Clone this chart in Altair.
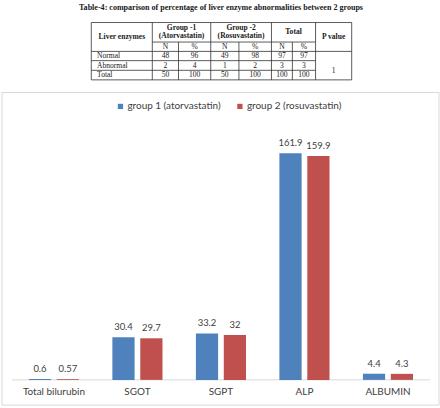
import altair as alt
import pandas as pd

# ---------------- data ----------------
table_title = "Table-4: comparison of percentage of liver enzyme abnormalities between 2 groups"
row_labels = ["Normal", "Abnormal", "Total"]
g1_n = [48, 2, 50]
g1_pct = [96, 4, 100]
g2_n = [49, 1, 50]
g2_pct = [98, 2, 100]
tot_n = [97, 3, 100]
tot_pct = [97, 3, 100]
p_value = "1"

categories = ["Total bilurubin", "SGOT", "SGPT", "ALP", "ALBUMIN"]
groups = ["group 1 (atorvastatin)", "group 2 (rosuvastatin)"]
group1_values = [0.6, 30.4, 33.2, 161.9, 4.4]
group2_values = [0.57, 29.7, 32, 159.9, 4.3]

# ---------------- layout (table geometry) ----------------
col_edges = [90.7, 152, 178.3, 210.7, 239, 271.7, 292.7, 316, 352.3]
row_edges = [21.7, 41.3, 50.7, 60, 69.7, 79.3]
num_col_centers = [(col_edges[i] + col_edges[i + 1]) / 2 for i in range(1, 7)]
data_row_centers = [55.3, 65.3, 74.7]

FONT_T = "Liberation Serif"
FONT_C = "Lato"
TXT = "#404040"

tx = alt.Scale(domain=[1, 440])
ty = alt.Scale(domain=[0, 88], reverse=True)

L, R, PV = col_edges[0], col_edges[-1], col_edges[7]
hl = [
    (L, R, row_edges[0]),
    (col_edges[1], PV, row_edges[1]),
    (L, R, row_edges[2]),
    (L, PV, row_edges[3]),
    (L, PV, row_edges[4]),
    (L, R, row_edges[5]),
]
vl = []
for i, x in enumerate(col_edges):
    top = row_edges[1] if i in (2, 4, 6) else row_edges[0]
    vl.append((x, x, top, row_edges[5]))
rules = pd.DataFrame(
    [dict(x=a, x2=b, y=y, y2=y) for a, b, y in hl]
    + [dict(x=a, x2=b, y=y1, y2=y2) for a, b, y1, y2 in vl]
)

bold_cells = pd.DataFrame([
    dict(x=(col_edges[0] + col_edges[1]) / 2, y=36.2, t="Liver enzymes"),
    dict(x=(col_edges[1] + col_edges[3]) / 2, y=27.0, t="Group -1"),
    dict(x=(col_edges[1] + col_edges[3]) / 2, y=35.2, t="(Atorvastatin)"),
    dict(x=(col_edges[3] + col_edges[5]) / 2, y=27.0, t="Group -2"),
    dict(x=(col_edges[3] + col_edges[5]) / 2, y=35.2, t="(Rosuvastatin)"),
    dict(x=(col_edges[5] + col_edges[7]) / 2, y=31.5, t="Total"),
    dict(x=(col_edges[7] + col_edges[8]) / 2, y=36.2, t="P value"),
])

cols = [g1_n, g1_pct, g2_n, g2_pct, tot_n, tot_pct]
plain = []
for j, xc in enumerate(num_col_centers):
    plain.append(dict(x=xc, y=46.0, t="N" if j % 2 == 0 else "%"))
    for i, yc in enumerate(data_row_centers):
        plain.append(dict(x=xc, y=yc, t=str(cols[j][i])))
plain.append(dict(x=(col_edges[7] + col_edges[8]) / 2, y=70.3, t=p_value))
plain_cells = pd.DataFrame(plain)

left_cells = pd.DataFrame([dict(x=96.5, y=yc, t=lab) for lab, yc in zip(row_labels, data_row_centers)])
title_df = pd.DataFrame([dict(x=221, y=7.0, t=table_title)])

rule_layer = alt.Chart(rules).mark_rule(color="#333333", strokeWidth=0.8).encode(
    x=alt.X("x:Q", scale=tx, axis=None), x2="x2:Q",
    y=alt.Y("y:Q", scale=ty, axis=None), y2="y2:Q",
)
def text_layer(df, size=7.6, **kw):
    return alt.Chart(df).mark_text(font=FONT_T, fontSize=size, color="#1a1a1a", baseline="middle", **kw).encode(
        x=alt.X("x:Q", scale=tx, axis=None), y=alt.Y("y:Q", scale=ty, axis=None), text="t:N"
    )

table = alt.layer(
    rule_layer,
    text_layer(bold_cells, fontWeight="bold", align="center"),
    text_layer(plain_cells, align="center"),
    text_layer(left_cells, align="left"),
    text_layer(title_df, size=8.1, fontWeight="bold", align="center"),
).properties(width=439, height=88)

# ---------------- bar chart ----------------
rows = []
for c, v1, v2 in zip(categories, group1_values, group2_values):
    rows.append(dict(category=c, group=groups[0], value=v1))
    rows.append(dict(category=c, group=groups[1], value=v2))
bars_df = pd.DataFrame(rows)

xs = alt.Scale(domain=categories, paddingInner=0.4, paddingOuter=0.3164, align=0.5085)
ys = alt.Scale(domain=[-18.0, 205.2], nice=False, zero=False)
xo = alt.Scale(paddingInner=0.2036, paddingOuter=0)

one = pd.DataFrame({"v": [0]})
frame = alt.Chart(one).mark_rect(fill="transparent", stroke="#D9D9D9", strokeWidth=1).encode(
    x=alt.value(0), x2=alt.value("width"), y=alt.value(0), y2=alt.value("height"),
)
baseline = alt.Chart(one).mark_rule(color="#D9D9D9", strokeWidth=1).encode(
    x=alt.value(10), x2=alt.value(430), y=alt.Y("v:Q", scale=ys, axis=None),
)

base = alt.Chart(bars_df)
bars = base.mark_bar().encode(
    x=alt.X("category:N", scale=xs, sort=categories, title=None,
            axis=alt.Axis(orient="bottom", offset=-25.3, domain=False, ticks=False, labelAngle=0,
                          labelPadding=7, labelFont=FONT_C, labelFontSize=10, labelColor=TXT)),
    xOffset=alt.XOffset("group:N", scale=xo, sort=groups),
    y=alt.Y("value:Q", scale=ys, axis=None),
    y2=alt.datum(0),
    color=alt.Color("group:N", sort=groups,
                    scale=alt.Scale(domain=groups, range=["#4F81BD", "#C0504D"]),
                    legend=alt.Legend(title=None, orient="none", legendX=114, legendY=101,
                                      direction="horizontal", symbolType="square", symbolSize=28,
                                      symbolStrokeWidth=0, labelFont=FONT_C, labelFontSize=10,
                                      labelColor=TXT, columnPadding=14, labelOffset=2)),
)
labels = base.mark_text(font=FONT_C, fontSize=9.5, color=TXT, baseline="bottom", dy=-5).encode(
    x=alt.X("category:N", scale=xs, sort=categories),
    xOffset=alt.XOffset("group:N", scale=xo, sort=groups),
    y=alt.Y("value:Q", scale=ys),
    text=alt.Text("value:N"),
)
barchart = alt.layer(frame, baseline, bars, labels).properties(width=439, height=314)

chart = alt.vconcat(table, barchart, spacing=3).properties(
    padding={"left": 1, "top": 0, "right": 0, "bottom": 0}
).configure_view(stroke=None)

chart.save("out.html", embed_options={"renderer": "svg", "actions": False})
